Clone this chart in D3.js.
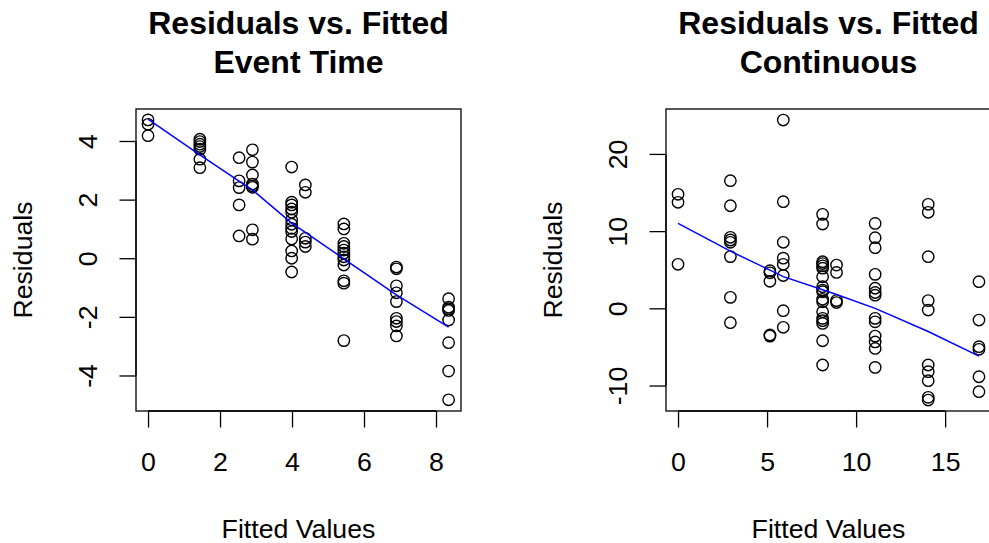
<!DOCTYPE html>
<html>
<head>
<meta charset="utf-8">
<script src="https://cdn.jsdelivr.net/npm/d3@7"></script>
<style>
  html, body { margin: 0; padding: 0; background: #fff; overflow: hidden; }
  svg { display: block; font-family: "Liberation Sans", Arial, Helvetica, sans-serif; }
</style>
</head>
<body>
<svg id="chart" width="989" height="543"></svg>
<script>
// ---------- DATA ----------
// Panel 1: Event Time
const eventFitted = [
  0, 0, 0,
  1.44, 1.44, 1.44, 1.44, 1.44, 1.44, 1.44,
  2.53, 2.53, 2.53, 2.53, 2.53,
  2.9, 2.9, 2.9, 2.9, 2.9, 2.9, 2.9, 2.9,
  3.99, 3.99, 3.99, 3.99, 3.99, 3.99, 3.99, 3.99, 3.99, 3.99, 3.99, 3.99, 3.99,
  4.37, 4.37, 4.37, 4.37, 4.37,
  5.44, 5.44, 5.44, 5.44, 5.44, 5.44, 5.44, 5.44, 5.44, 5.44, 5.44, 5.44,
  6.9, 6.9, 6.9, 6.9, 6.9, 6.9, 6.9, 6.9, 6.9,
  8.35, 8.35, 8.35, 8.35, 8.35, 8.35, 8.35, 8.35
];
const eventResid = [
  4.72, 4.57, 4.18,
  4.06, 3.98, 3.89, 3.81, 3.72, 3.38, 3.09,
  3.43, 2.64, 2.41, 1.82, 0.76,
  3.70, 3.28, 2.84, 2.53, 2.47, 2.42, 0.97, 0.65,
  3.11, 1.91, 1.82, 1.68, 1.57, 1.31, 1.16, 1.02, 0.91, 0.66, 0.25, 0.0, -0.47,
  2.50, 2.25, 0.68, 0.55, 0.40,
  1.17, 1.0, 0.51, 0.40, 0.28, 0.17, 0.05, -0.06, -0.23, -0.77, -0.85, -2.81,
  -0.30, -0.36, -0.94, -1.18, -1.48, -2.05, -2.16, -2.31, -2.65,
  -1.38, -1.67, -1.72, -1.78, -2.11, -2.88, -3.85, -4.83
];
const eventSmoothX = [0, 1.44, 2.53, 2.9, 3.99, 4.37, 5.44, 6.9, 8.35];
const eventSmoothY = [4.75, 3.53, 2.63, 2.33, 1.2, 0.88, -0.02, -1.25, -2.35];
const eventXTicks = [0, 2, 4, 6, 8];
const eventYTicks = [-4, -2, 0, 2, 4];

// Panel 2: Continuous
const contFitted = [
  0, 0, 0,
  2.94, 2.94, 2.94, 2.94, 2.94, 2.94, 2.94, 2.94,
  5.16, 5.16, 5.16, 5.16, 5.16,
  5.91, 5.91, 5.91, 5.91, 5.91, 5.91, 5.91, 5.91,
  8.12, 8.12, 8.12, 8.12, 8.12, 8.12, 8.12, 8.12, 8.12, 8.12, 8.12, 8.12, 8.12, 8.12, 8.12, 8.12, 8.12, 8.12,
  8.9, 8.9, 8.9, 8.9,
  11.07, 11.07, 11.07, 11.07, 11.07, 11.07, 11.07, 11.07, 11.07, 11.07, 11.07, 11.07, 11.07,
  14.05, 14.05, 14.05, 14.05, 14.05, 14.05, 14.05, 14.05, 14.05, 14.05,
  16.9, 16.9, 16.9, 16.9, 16.9, 16.9
];
const contResid = [
  14.77, 13.73, 5.70,
  16.53, 13.29, 9.2, 8.85, 8.55, 6.7, 1.42, -1.86,
  4.87, 4.6, 3.5, -3.45, -3.6,
  24.39, 13.81, 8.55, 6.5, 5.7, 4.25, -0.31, -2.46,
  12.17, 10.92, 6.04, 5.8, 5.5, 5.2, 4.09, 2.80, 2.37, 2.15, 1.17, 0.85, -0.44, -1.30, -1.6, -1.95, -4.2, -7.34,
  5.6, 4.65, 1.0, 0.75,
  11.0, 9.15, 7.85, 4.4, 2.6, 2.05, 1.7, -1.3, -1.75, -3.6, -4.35, -5.2, -7.65,
  13.47, 12.44, 6.69, 1.0, -0.22, -7.34, -8.2, -9.37, -11.53, -11.88,
  3.45, -1.52, -4.97, -5.31, -8.86, -10.8
];
const contSmoothX = [0, 2.94, 5.16, 5.91, 8.12, 8.9, 11.07, 14.05, 16.9];
const contSmoothY = [11.0, 7.4, 4.95, 4.1, 2.4, 1.8, 0.0, -3.0, -6.2];
const contXTicks = [0, 5, 10, 15];
const contYTicks = [-10, 0, 10, 20];

const titles = [["Residuals vs. Fitted", "Event Time"], ["Residuals vs. Fitted", "Continuous"]];
const xLabel = "Fitted Values";
const yLabel = "Residuals";

// ---------- DRAW ----------
const svg = d3.select("#chart");
const baseFont = 26.7;
const fmt = d => String(d); // plain hyphen-minus like R

function expand(lim) {
  const d = (lim[1] - lim[0]) * 0.04;
  return [lim[0] - d, lim[1] + d];
}

function panel(opts) {
  const left = opts.left, right = opts.left + 325, top = 109, bottom = 411;
  const x = d3.scaleLinear().domain(expand(opts.xLim)).range([left, right]);
  const y = d3.scaleLinear().domain(expand(opts.yLim)).range([bottom, top]);
  const g = svg.append("g");
  const cx = (left + right) / 2;

  // titles
  g.append("text").attr("x", cx).attr("y", 34.3).attr("text-anchor", "middle")
    .attr("font-size", 32).attr("font-weight", "bold").text(opts.title[0]);
  g.append("text").attr("x", cx).attr("y", 73.3).attr("text-anchor", "middle")
    .attr("font-size", 32).attr("font-weight", "bold").text(opts.title[1]);

  // points
  g.append("g").selectAll("circle")
    .data(opts.fx.map((v, i) => [v, opts.ry[i]]))
    .join("circle")
    .attr("cx", d => x(d[0])).attr("cy", d => y(d[1]))
    .attr("r", 5.7).attr("fill", "none").attr("stroke", "#000").attr("stroke-width", 1.4);

  // smoother line
  const line = d3.line().x(d => x(d[0])).y(d => y(d[1]));
  g.append("path").datum(opts.sx.map((v, i) => [v, opts.sy[i]]))
    .attr("d", line).attr("fill", "none").attr("stroke", "#0000ff").attr("stroke-width", 1.5);

  // box
  g.append("rect").attr("x", left).attr("y", top).attr("width", right - left).attr("height", bottom - top)
    .attr("fill", "none").attr("stroke", "#000").attr("stroke-width", 1.3);

  // x axis
  const xa = g.append("g").attr("transform", `translate(0,${bottom})`)
    .call(d3.axisBottom(x).tickValues(opts.xTicks).tickSize(16.5).tickPadding(24.5).tickFormat(fmt));
  xa.select(".domain").remove();
  xa.attr("font-family", null);
  xa.selectAll("line").attr("stroke-width", 1.3);
  xa.selectAll("text").attr("font-size", baseFont).attr("fill", "#000");
  xa.append("line").attr("x1", x(opts.xTicks[0])).attr("x2", x(opts.xTicks[opts.xTicks.length - 1]))
    .attr("stroke", "#000").attr("stroke-width", 1.3);

  // y axis
  const ya = g.append("g").attr("transform", `translate(${left},0)`)
    .call(d3.axisLeft(y).tickValues(opts.yTicks).tickSize(16.5).tickFormat(fmt));
  ya.select(".domain").remove();
  ya.attr("font-family", null);
  ya.selectAll("line").attr("stroke-width", 1.3);
  ya.selectAll("text").attr("font-size", baseFont).attr("fill", "#000")
    .attr("x", null).attr("dy", null).attr("text-anchor", "middle")
    .attr("transform", "translate(-39.5,0) rotate(-90)");
  ya.append("line").attr("y1", y(opts.yTicks[0])).attr("y2", y(opts.yTicks[opts.yTicks.length - 1]))
    .attr("stroke", "#000").attr("stroke-width", 1.3);

  // axis labels
  g.append("text").attr("x", cx).attr("y", 537.5).attr("text-anchor", "middle")
    .attr("font-size", baseFont).text(xLabel);
  g.append("text").attr("transform", `translate(${left - 104.5},${(top + bottom) / 2}) rotate(-90)`)
    .attr("text-anchor", "middle").attr("font-size", baseFont).text(yLabel);
}

panel({ left: 136, xLim: [0, 8.36], yLim: [-4.83, 4.71], fx: eventFitted, ry: eventResid,
        sx: eventSmoothX, sy: eventSmoothY, xTicks: eventXTicks, yTicks: eventYTicks, title: titles[0] });
panel({ left: 666, xLim: [0, 16.9], yLim: [-11.85, 24.37], fx: contFitted, ry: contResid,
        sx: contSmoothX, sy: contSmoothY, xTicks: contXTicks, yTicks: contYTicks, title: titles[1] });
</script>
</body>
</html>
